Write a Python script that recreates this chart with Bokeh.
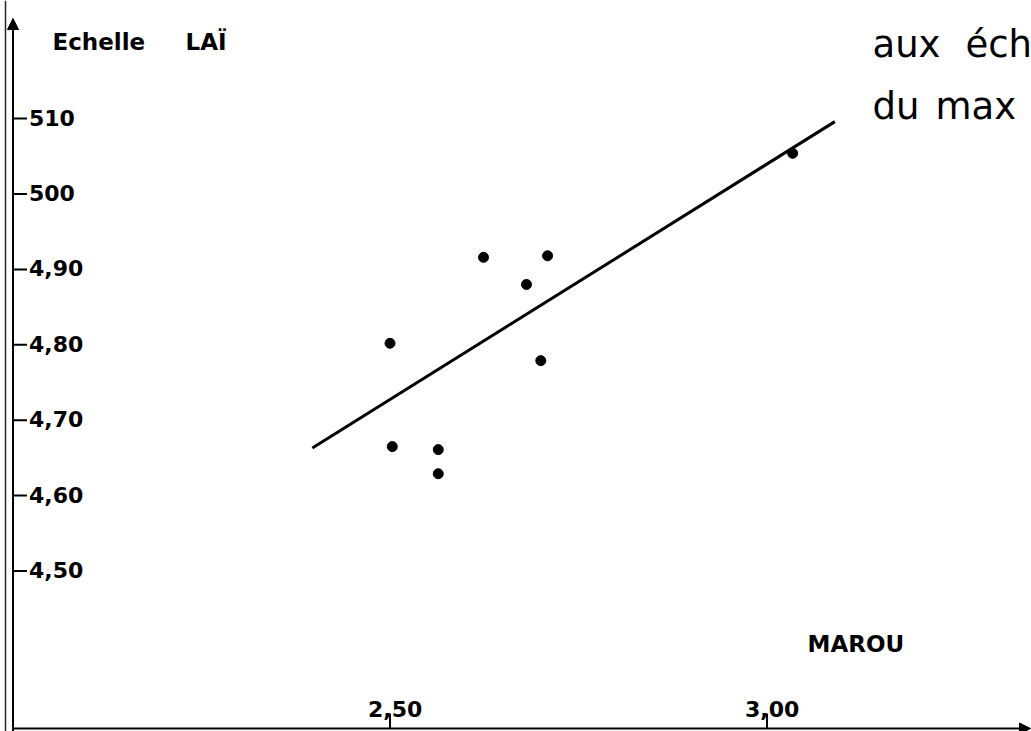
from bokeh.plotting import figure
from bokeh.models import Range1d, Label, Arrow, NormalHead, Span
from bokeh.core.properties import value
from bokeh.embed import file_html
from bokeh.resources import INLINE

# ---- data ----
marou = [2.50, 2.503, 2.564, 2.564, 2.624, 2.681, 2.709, 2.700, 3.034]
lai = [4.802, 4.665, 4.661, 4.629, 4.916, 4.880, 4.918, 4.779, 5.054]

fit_x = [2.397, 3.090]
fit_y = [4.663, 5.096]

y_ticks = [5.10, 5.00, 4.90, 4.80, 4.70, 4.60, 4.50]
y_tick_labels = ["510", "500", "4,90", "4,80", "4,70", "4,60", "4,50"]
x_ticks = [2.50, 3.00]
x_tick_labels = ["2,50", "3,00"]

# ---- frame geometry (754 px per unit on both axes) ----
PX = 754.0
X_LO = 2.5 - 389.5 / PX
X_HI = X_LO + 1031 / PX
Y_HI = 4.8 + 344.3 / PX
Y_LO = Y_HI - 731 / PX
AXIS_X = 2.00                 # vertical axis crosses here
AXIS_Y = Y_HI - 728 / PX      # horizontal axis

FONT_NAME = "DejaVu Sans"
FONT = value(FONT_NAME)

p = figure(width=1031, height=731, output_backend="svg", toolbar_location=None,
           x_range=Range1d(X_LO, X_HI), y_range=Range1d(Y_LO, Y_HI),
           x_axis_type=None, y_axis_type=None, min_border=0)
p.grid.visible = False
p.outline_line_color = None
p.background_fill_color = "white"
p.border_fill_color = "white"

# paper edge line
p.add_layout(Span(location=X_LO + 5 / PX, dimension="height",
                  line_color="#222222", line_width=1.5))

# axes with arrows
p.add_layout(Arrow(end=NormalHead(size=11, line_color="black", fill_color="black"),
                   x_start=AXIS_X, y_start=Y_LO, x_end=AXIS_X, y_end=Y_HI - 18 / PX,
                   line_color="black", line_width=2))
p.add_layout(Arrow(end=NormalHead(size=11, line_color="black", fill_color="black"),
                   x_start=AXIS_X, y_start=AXIS_Y, x_end=X_LO + 1030 / PX, y_end=AXIS_Y,
                   line_color="black", line_width=2))

# y ticks and labels (inside, to the right of the axis)
p.segment(x0=[AXIS_X] * len(y_ticks), y0=y_ticks,
          x1=[AXIS_X + 14 / PX] * len(y_ticks), y1=y_ticks,
          line_color="black", line_width=2)
p.text(x=[AXIS_X] * len(y_ticks), y=y_ticks, text=y_tick_labels,
       x_offset=16, y_offset=-1, text_align="left", text_baseline="middle",
       text_font=FONT, text_font_style="bold", text_font_size="22px",
       text_color="black")

# x ticks and labels (above the axis)
p.segment(x0=x_ticks, y0=[AXIS_Y] * len(x_ticks),
          x1=x_ticks, y1=[AXIS_Y + 15 / PX] * len(x_ticks),
          line_color="black", line_width=2)
p.text(x=x_ticks, y=[AXIS_Y] * len(x_ticks), text=x_tick_labels,
       x_offset=-22, y_offset=-20, text_align="left", text_baseline="alphabetic",
       text_font=FONT, text_font_style="bold", text_font_size="22px",
       text_color="black")

# regression line and points
p.line(fit_x, fit_y, line_color="black", line_width=3)
p.scatter(marou, lai, size=10, fill_color="black", line_color="black")

# titles
H = 731
for txt, x, yb in [("Echelle", 52, 41), ("LAÏ", 185, 41), ("MAROU", 807, 643)]:
    p.add_layout(Label(x=x, y=H - yb, x_units="screen", y_units="screen", text=txt,
                       text_font=FONT_NAME, text_font_style="bold", text_font_size="23px",
                       text_baseline="alphabetic", text_color="black"))
for txt, x, yb in [("aux", 872, 44), ("éch", 965, 44), ("du", 872, 106), ("max", 935, 106)]:
    p.add_layout(Label(x=x, y=H - yb, x_units="screen", y_units="screen", text=txt,
                       text_font=FONT_NAME, text_font_size="37px",
                       text_baseline="alphabetic", text_color="black"))

open("out.html", "w").write(file_html(p, INLINE))
